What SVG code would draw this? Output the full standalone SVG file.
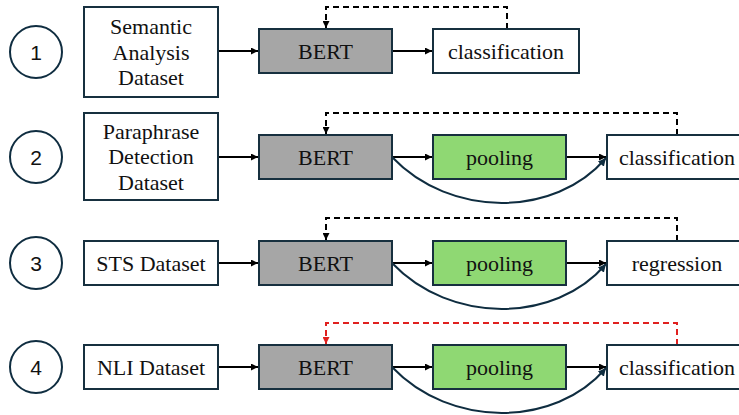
<svg xmlns="http://www.w3.org/2000/svg" width="739" height="415" viewBox="0 0 739 415">
<defs>
<marker id="ah" viewBox="0 0 10 10" refX="10" refY="5" markerWidth="3.5" markerHeight="3.5" orient="auto" markerUnits="strokeWidth"><path d="M0,0 L10,5 L0,10 z" fill="#000"/></marker>
<marker id="ahn" viewBox="0 0 10 10" refX="10" refY="5" markerWidth="4" markerHeight="4" orient="auto" markerUnits="strokeWidth"><path d="M0,0 L10,5 L0,10 z" fill="#0f2d40"/></marker>
<marker id="ahr" viewBox="0 0 10 10" refX="10" refY="5" markerWidth="3.5" markerHeight="3.5" orient="auto" markerUnits="strokeWidth"><path d="M0,0 L10,5 L0,10 z" fill="#e0201f"/></marker>
<style>
.box{fill:#fff;stroke:#17303f;stroke-width:2}
.bert{fill:#a6a6a6;stroke:#17303f;stroke-width:2}
.pool{fill:#8fd873;stroke:#17303f;stroke-width:2}
.circ{fill:#fff;stroke:#0f2d40;stroke-width:2}
.t{font-family:"Liberation Serif","Times New Roman",serif;font-size:22px;fill:#111;text-anchor:middle}
.n{font-family:"Liberation Sans",Arial,sans-serif;font-size:21px;fill:#111;text-anchor:middle}
.a{fill:none;stroke:#000;stroke-width:2;marker-end:url(#ah)}
.c{fill:none;stroke:#0f2d40;stroke-width:2;marker-end:url(#ahn)}
.d{fill:none;stroke:#000;stroke-width:2;stroke-dasharray:6 4;marker-end:url(#ah)}
.dr{fill:none;stroke:#e0201f;stroke-width:2;stroke-dasharray:6 4;marker-end:url(#ahr)}
</style>
</defs>
<g id="connectors">
<path class="a" d="M218,51 L258,51"/>
<path class="a" d="M392,51 L432,51"/>
<path class="d" d="M507,29 L507,7 L326,7 L326,28"/>
<path class="a" d="M218,157 L258,157"/>
<path class="a" d="M392,157 L432,157"/>
<path class="a" d="M566,157 L606,157"/>
<path class="c" d="M392,157 C450,218 555,218 606,158"/>
<path class="d" d="M677,135 L677,113 L326,113 L326,134"/>
<path class="a" d="M218,263 L258,263"/>
<path class="a" d="M392,263 L432,263"/>
<path class="a" d="M566,263 L606,263"/>
<path class="c" d="M392,263 C450,324 555,324 606,264"/>
<path class="d" d="M677,241 L677,218 L326,218 L326,240"/>
<path class="a" d="M218,367 L258,367"/>
<path class="a" d="M392,367 L432,367"/>
<path class="a" d="M566,367 L606,367"/>
<path class="c" d="M392,367 C450,428 555,428 606,368"/>
<path class="dr" d="M677,345 L677,323 L326,323 L326,344"/>
</g>
<g id="n1"><circle class="circ" cx="36" cy="52" r="26"/><text class="n" x="36" y="59.5">1</text></g>
<g id="n2"><circle class="circ" cx="36" cy="157" r="26"/><text class="n" x="36" y="164.5">2</text></g>
<g id="n3"><circle class="circ" cx="36" cy="263" r="26"/><text class="n" x="36" y="270.5">3</text></g>
<g id="n4"><circle class="circ" cx="36" cy="367" r="26"/><text class="n" x="36" y="374.5">4</text></g>
<g id="ds1"><rect class="box" x="84" y="7" width="134" height="90"/><text class="t" x="151" y="34">Semantic</text><text class="t" x="151" y="59.5">Analysis</text><text class="t" x="151" y="85">Dataset</text></g>
<g id="bert1"><rect class="bert" x="259" y="29" width="133" height="44"/><text class="t" x="325.5" y="58.5">BERT</text></g>
<g id="cls1"><rect class="box" x="433" y="29" width="146" height="44"/><text class="t" x="506" y="58.5">classification</text></g>
<g id="ds2"><rect class="box" x="84" y="113" width="134" height="87"/><text class="t" x="151" y="139">Paraphrase</text><text class="t" x="151" y="164">Detection</text><text class="t" x="151" y="189.5">Dataset</text></g>
<g id="bert2"><rect class="bert" x="259" y="135" width="133" height="44"/><text class="t" x="325.5" y="164.5">BERT</text></g>
<g id="pool2"><rect class="pool" x="433" y="135" width="133" height="44"/><text class="t" x="499.5" y="164.5">pooling</text></g>
<g id="cls2"><rect class="box" x="607" y="135" width="140" height="44"/><text class="t" x="677" y="164.5">classification</text></g>
<g id="ds3"><rect class="box" x="84" y="241" width="134" height="44"/><text class="t" x="151" y="270.5">STS Dataset</text></g>
<g id="bert3"><rect class="bert" x="259" y="241" width="133" height="44"/><text class="t" x="325.5" y="270.5">BERT</text></g>
<g id="pool3"><rect class="pool" x="433" y="241" width="133" height="44"/><text class="t" x="499.5" y="270.5">pooling</text></g>
<g id="reg3"><rect class="box" x="607" y="241" width="140" height="44"/><text class="t" x="677" y="270.5">regression</text></g>
<g id="ds4"><rect class="box" x="84" y="345" width="134" height="44"/><text class="t" x="151" y="374.5">NLI Dataset</text></g>
<g id="bert4"><rect class="bert" x="259" y="345" width="133" height="44"/><text class="t" x="325.5" y="374.5">BERT</text></g>
<g id="pool4"><rect class="pool" x="433" y="345" width="133" height="44"/><text class="t" x="499.5" y="374.5">pooling</text></g>
<g id="cls4"><rect class="box" x="607" y="345" width="140" height="44"/><text class="t" x="677" y="374.5">classification</text></g>
</svg>
